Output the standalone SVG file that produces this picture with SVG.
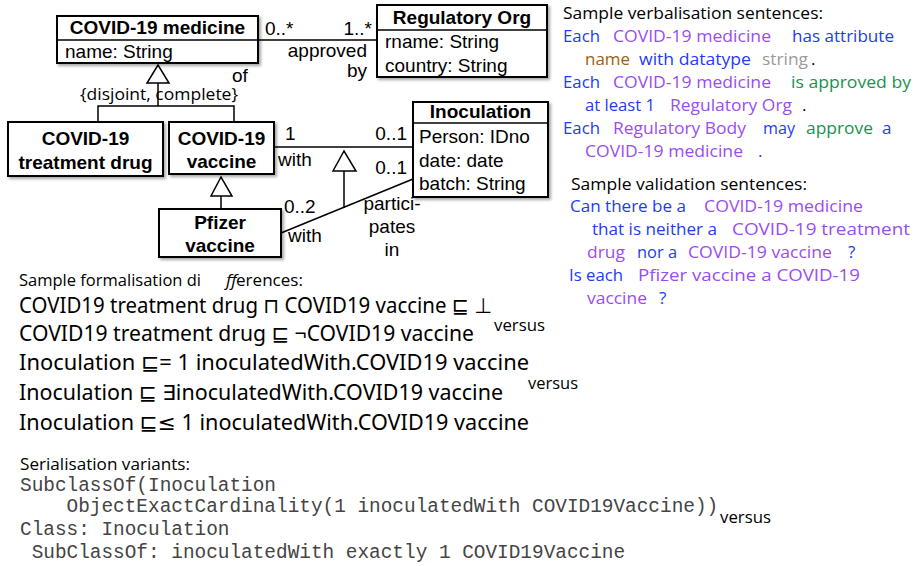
<svg xmlns="http://www.w3.org/2000/svg" width="918" height="566" viewBox="0 0 918 566">
<defs>
<filter id="sh" x="-10%" y="-10%" width="130%" height="140%">
<feDropShadow dx="2" dy="2" stdDeviation="1.5" flood-color="#000" flood-opacity="0.35"/>
</filter>
<style>
.box{fill:#fff;stroke:#000;stroke-width:2;filter:url(#sh)}
.div{stroke:#000;stroke-width:1.5}
.ln{stroke:#000;stroke-width:1.5;fill:none}
.tri{fill:#fff;stroke:#000;stroke-width:1.5}
.u{font-family:"Liberation Sans",Arial,sans-serif;font-size:19px;fill:#000}
.ub{font-family:"Liberation Sans",Arial,sans-serif;font-size:19px;font-weight:bold;fill:#000}
.m{font-family:"Open Sans","Noto Sans",sans-serif;font-size:17px}
.k{fill:#000}
.b{fill:#1d3cf2}
.p{fill:#9a4cf2}
.g{fill:#1a9150}
.br{fill:#9c600e}
.gr{fill:#9a9a9a}
.f{font-family:"Noto Sans","DejaVu Sans",sans-serif;font-size:21px;fill:#000}
.mono{font-family:"Liberation Mono","Courier New",monospace;font-size:19.4px;fill:#444}
</style>
</defs>

<g id="connectors">
<line class="ln" x1="258" y1="40" x2="377" y2="40"/>
<polyline class="ln" points="158,83 158,106"/>
<polyline class="ln" points="98,122 98,106 234,106 234,122"/>
<line class="ln" x1="221" y1="196" x2="221" y2="209"/>
<line class="ln" x1="274" y1="147" x2="413" y2="147"/>
<line class="ln" x1="281" y1="233" x2="413" y2="179"/>
<line class="ln" x1="344" y1="171" x2="344" y2="208"/>
<polygon class="tri" points="158,65 147,83 169,83"/>
<polygon class="tri" points="221,177 211,196 232,196"/>
<polygon class="tri" points="344,151 333,171 356,171"/>
<text class="u" x="265" y="35">0..*</text>
<text class="u" x="372" y="35" text-anchor="end">1..*</text>
<text class="u" x="367" y="57" text-anchor="end">approved</text>
<text class="u" x="367" y="77" text-anchor="end">by</text>
<text class="u" x="232" y="82">of</text>
<text class="m k" x="159" y="100" text-anchor="middle" textLength="158" lengthAdjust="spacingAndGlyphs">{disjoint, complete}</text>
<text class="u" x="285" y="140">1</text>
<text class="u" x="278" y="166">with</text>
<text class="u" x="407" y="140" text-anchor="end">0..1</text>
<text class="u" x="407" y="174" text-anchor="end">0..1</text>
<text class="u" x="284" y="213">0..2</text>
<text class="u" x="288" y="242">with</text>
<text class="u" x="392" y="210" text-anchor="middle">partici-</text>
<text class="u" x="392" y="233" text-anchor="middle">pates</text>
<text class="u" x="392" y="256" text-anchor="middle">in</text>
</g>

<g id="covid-medicine">
<rect class="box" x="57" y="16" width="201" height="47"/>
<line class="div" x1="57" y1="40" x2="258" y2="40"/>
<text class="ub" x="157.5" y="34" text-anchor="middle">COVID-19 medicine</text>
<text class="u" x="65" y="58">name: String</text>
</g>

<g id="regulatory-org">
<rect class="box" x="377" y="5" width="170" height="72"/>
<line class="div" x1="377" y1="30" x2="547" y2="30"/>
<text class="ub" x="462" y="24" text-anchor="middle">Regulatory Org</text>
<text class="u" x="385" y="48">rname: String</text>
<text class="u" x="385" y="72">country: String</text>
</g>

<g id="treatment-drug">
<rect class="box" x="8" y="122" width="155" height="54"/>
<text class="ub" x="85.5" y="145" text-anchor="middle">COVID-19</text>
<text class="ub" x="85.5" y="169" text-anchor="middle">treatment drug</text>
</g>

<g id="covid-vaccine">
<rect class="box" x="169" y="122" width="105" height="52"/>
<text class="ub" x="221.5" y="145" text-anchor="middle">COVID-19</text>
<text class="ub" x="221.5" y="168" text-anchor="middle">vaccine</text>
</g>

<g id="pfizer-vaccine">
<rect class="box" x="159" y="209" width="122" height="48"/>
<text class="ub" x="220" y="229" text-anchor="middle">Pfizer</text>
<text class="ub" x="220" y="252" text-anchor="middle">vaccine</text>
</g>

<g id="inoculation">
<rect class="box" x="413" y="102" width="135" height="95"/>
<line class="div" x1="413" y1="123" x2="548" y2="123"/>
<text class="ub" x="480.5" y="118" text-anchor="middle">Inoculation</text>
<text class="u" x="419" y="143">Person: IDno</text>
<text class="u" x="419" y="167">date: date</text>
<text class="u" x="419" y="190">batch: String</text>
</g>

<g id="verbalisation">
<text class="m k" x="563" y="19" textLength="260" lengthAdjust="spacingAndGlyphs">Sample verbalisation sentences:</text>
<text class="m b" x="563" y="42" textLength="37" lengthAdjust="spacingAndGlyphs">Each</text>
<text class="m p" x="613" y="42" textLength="158" lengthAdjust="spacingAndGlyphs">COVID-19 medicine</text>
<text class="m b" x="792" y="42" textLength="102" lengthAdjust="spacingAndGlyphs">has attribute</text>
<text class="m br" x="585" y="65" textLength="45" lengthAdjust="spacingAndGlyphs">name</text>
<text class="m b" x="639" y="65" textLength="112" lengthAdjust="spacingAndGlyphs">with datatype</text>
<text class="m gr" x="762" y="65" textLength="46" lengthAdjust="spacingAndGlyphs">string</text>
<text class="m k" x="811" y="65">.</text>
<text class="m b" x="563" y="88" textLength="37" lengthAdjust="spacingAndGlyphs">Each</text>
<text class="m p" x="613" y="88" textLength="158" lengthAdjust="spacingAndGlyphs">COVID-19 medicine</text>
<text class="m g" x="791" y="88" textLength="120" lengthAdjust="spacingAndGlyphs">is approved by</text>
<text class="m b" x="585" y="111" textLength="70" lengthAdjust="spacingAndGlyphs">at least 1</text>
<text class="m p" x="670" y="111" textLength="122" lengthAdjust="spacingAndGlyphs">Regulatory Org</text>
<text class="m k" x="802" y="111">.</text>
<text class="m b" x="563" y="134" textLength="37" lengthAdjust="spacingAndGlyphs">Each</text>
<text class="m p" x="613" y="134" textLength="133" lengthAdjust="spacingAndGlyphs">Regulatory Body</text>
<text class="m b" x="763" y="134" textLength="32" lengthAdjust="spacingAndGlyphs">may</text>
<text class="m g" x="806" y="134" textLength="67" lengthAdjust="spacingAndGlyphs">approve</text>
<text class="m b" x="882" y="134">a</text>
<text class="m p" x="585" y="157" textLength="158" lengthAdjust="spacingAndGlyphs">COVID-19 medicine</text>
<text class="m b" x="758" y="157">.</text>
</g>

<g id="validation">
<text class="m k" x="571" y="190" textLength="236" lengthAdjust="spacingAndGlyphs">Sample validation sentences:</text>
<text class="m b" x="570" y="212" textLength="116" lengthAdjust="spacingAndGlyphs">Can there be a</text>
<text class="m p" x="704" y="212" textLength="159" lengthAdjust="spacingAndGlyphs">COVID-19 medicine</text>
<text class="m b" x="592" y="235" textLength="125" lengthAdjust="spacingAndGlyphs">that is neither a</text>
<text class="m p" x="732" y="235" textLength="178" lengthAdjust="spacingAndGlyphs">COVID-19 treatment</text>
<text class="m p" x="587" y="258" textLength="38" lengthAdjust="spacingAndGlyphs">drug</text>
<text class="m b" x="637" y="258" textLength="40" lengthAdjust="spacingAndGlyphs">nor a</text>
<text class="m p" x="688" y="258" textLength="144" lengthAdjust="spacingAndGlyphs">COVID-19 vaccine</text>
<text class="m b" x="848" y="258">?</text>
<text class="m b" x="569" y="281" textLength="54" lengthAdjust="spacingAndGlyphs">Is each</text>
<text class="m p" x="638" y="281" textLength="222" lengthAdjust="spacingAndGlyphs">Pfizer vaccine a COVID-19</text>
<text class="m p" x="587" y="304" textLength="60" lengthAdjust="spacingAndGlyphs">vaccine</text>
<text class="m b" x="659" y="304">?</text>
</g>

<g id="formalisation">
<text class="m k" x="19" y="286" textLength="182" lengthAdjust="spacingAndGlyphs">Sample formalisation di</text>
<text class="m k" x="226" y="286" font-style="italic">ff</text>
<text class="m k" x="236" y="286" textLength="67" lengthAdjust="spacingAndGlyphs">erences:</text>
<text class="f" x="19" y="313" textLength="473" lengthAdjust="spacingAndGlyphs">COVID19 treatment drug ⊓ COVID19 vaccine ⊑ ⊥</text>
<text class="f" x="19" y="341" textLength="455" lengthAdjust="spacingAndGlyphs">COVID19 treatment drug ⊑ ¬COVID19 vaccine</text>
<text class="m k" x="494" y="331" textLength="51" lengthAdjust="spacingAndGlyphs">versus</text>
<text class="f" x="19" y="370" textLength="510" lengthAdjust="spacingAndGlyphs">Inoculation ⊑= 1 inoculatedWith.COVID19 vaccine</text>
<text class="f" x="19" y="400" textLength="484" lengthAdjust="spacingAndGlyphs">Inoculation ⊑ ∃inoculatedWith.COVID19 vaccine</text>
<text class="m k" x="528" y="389" textLength="50" lengthAdjust="spacingAndGlyphs">versus</text>
<text class="f" x="19" y="430" textLength="510" lengthAdjust="spacingAndGlyphs">Inoculation ⊑≤ 1 inoculatedWith.COVID19 vaccine</text>
</g>

<g id="serialisation">
<text class="m k" x="20" y="470" textLength="170" lengthAdjust="spacingAndGlyphs">Serialisation variants:</text>
<text class="mono" x="20" y="491" xml:space="preserve">SubclassOf(Inoculation</text>
<text class="mono" x="20" y="512" xml:space="preserve">    ObjectExactCardinality(1 inoculatedWith COVID19Vaccine))</text>
<text class="m k" x="720" y="523" textLength="51" lengthAdjust="spacingAndGlyphs">versus</text>
<text class="mono" x="20" y="535" xml:space="preserve">Class: Inoculation</text>
<text class="mono" x="20" y="558" xml:space="preserve"> SubClassOf: inoculatedWith exactly 1 COVID19Vaccine</text>
</g>
</svg>
